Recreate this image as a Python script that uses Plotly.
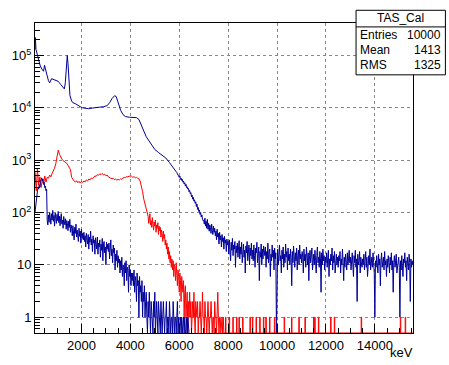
import numpy as np
import plotly.graph_objects as go

# ---------------- data ----------------
# Upper blue spectrum, smooth part (keV, counts)
blue_e = [100, 115, 140, 170, 220, 260, 315, 380, 450, 490, 530, 580, 650, 700, 780, 850, 950,
          1050, 1150, 1250, 1300, 1340, 1380, 1420, 1450, 1490, 1530, 1600, 1650, 1750, 1850,
          1950, 2050, 2150, 2300, 2450, 2600, 2750, 2900, 3050, 3150, 3250, 3350, 3420, 3500,
          3600, 3700, 3800, 3950, 4100, 4250, 4350, 4450, 4550, 4650, 4750, 4870, 5000, 5150,
          5300, 5450, 5600, 5750, 5900]
blue_c = [1.3e5, 2.2e5, 1.3e5, 1.15e5, 8.5e4, 7.9e4, 6.3e4, 5.5e4, 5.0e4, 6.5e4, 5.0e4, 4.4e4,
          3.3e4, 3.0e4, 3.6e4, 3.5e4, 3.3e4, 3.2e4, 2.8e4, 2.4e4, 2.3e4, 3.0e4, 6.5e4, 1.0e5,
          7.0e4, 2.8e4, 1.7e4, 1.35e4, 1.25e4, 1.2e4, 1.1e4, 1.05e4, 1.0e4, 9.8e3, 9.6e3, 9.9e3,
          1.0e4, 1.02e4, 1.05e4, 1.1e4, 1.25e4, 1.5e4, 1.7e4, 1.65e4, 1.3e4, 9.0e3, 7.4e3,
          6.8e3, 6.6e3, 6.6e3, 6.5e3, 6.0e3, 4.8e3, 3.6e3, 2.8e3, 2.4e3, 1.9e3, 1.6e3, 1.4e3,
          1.25e3, 1.1e3, 900, 720, 580]
# Upper blue spectrum, noisy tail: 25 keV bins starting at 6000 keV
blue_tail_start, blue_tail_step = 6000, 25
blue_tail_c = [
    470, 500, 430, 455, 410, 430, 380, 400, 350, 370, 320, 345, 300, 310, 280, 290, 250, 265, 230, 240,
    200, 215, 180, 195, 165, 175, 150, 160, 130, 145, 115, 125, 105, 112, 92, 100, 82, 90, 75, 70,
    72, 60, 78, 55, 68, 50, 74, 48, 62, 44, 58, 52, 40, 60, 46, 38, 55, 42, 50, 36,
    44, 30, 48, 34, 40, 25, 42, 30, 36, 22, 38, 28, 33, 20, 35, 26, 30, 18, 31, 24,
    28, 16, 30, 22, 12, 27, 19, 32, 15, 24, 20, 28, 9, 23, 17, 26, 14, 21, 29, 13,
    22, 16, 27, 11, 20, 25, 14, 19, 7, 23, 17, 28, 12, 18, 24, 10, 21, 15, 26, 13,
    19, 12, 24, 15, 9, 21, 17, 27, 11, 16, 22, 5, 18, 14, 25, 10, 20, 13, 23, 16,
    15, 22, 9, 18, 13, 26, 11, 17, 20, 6, 16, 12, 24, 14, 19, 8, 21, 13, 17, 0,
    14, 20, 10, 17, 24, 12, 15, 7, 19, 13, 22, 9, 16, 11, 25, 14, 18, 8, 21, 12,
    16, 10, 20, 13, 4, 18, 11, 23, 14, 9, 17, 12, 21, 8, 15, 19, 10, 24, 13, 16,
    11, 18, 14, 7, 20, 12, 16, 9, 22, 13, 10, 17, 5, 15, 19, 11, 14, 21, 8, 13,
    16, 10, 19, 12, 7, 15, 22, 11, 14, 9, 18, 13, 3, 17, 10, 20, 12, 15, 8, 14,
    11, 17, 9, 14, 19, 6, 13, 10, 16, 12, 21, 8, 15, 11, 18, 7, 13, 16, 10, 14,
    9, 15, 12, 18, 7, 13, 10, 20, 11, 5, 14, 9, 16, 12, 8, 17, 10, 13, 19, 11,
    14, 8, 12, 17, 10, 6, 15, 11, 19, 9, 13, 2, 16, 10, 12, 18, 7, 14, 11, 9,
    13, 10, 16, 8, 12, 18, 9, 14, 6, 11, 15, 10, 20, 8, 12, 14, 9, 17, 11, 7,
    1, 12, 9, 15, 11, 7, 16, 10, 13, 4, 12, 17, 9, 11, 14, 8, 18, 10, 12, 6,
    13, 9, 15, 11, 7, 14, 10, 17, 8, 12, 3, 11, 15, 9, 13, 16, 7, 10, 12, 14,
    9, 1, 12, 8, 15, 10, 6, 13, 11, 17, 9, 12, 5, 14, 10, 8, 16, 11, 2, 13, 9, 12, 10]

# Red spectrum: 50 keV bins starting at 100 keV
red_start, red_step = 100, 50
red_c = [
    600, 260, 690, 330, 480, 300, 420, 340, 500, 380, 470, 450, 520, 480, 560, 620, 700, 850, 1150, 1550,
    1300, 1150, 1050, 980, 950, 900, 870, 800, 740, 660, 470, 420, 400, 380, 405, 370, 395, 365, 390, 375,
    400, 385, 420, 400, 435, 420, 455, 440, 480, 500, 490, 530, 515, 550, 530, 560, 520, 540, 505, 520,
    480, 470, 455, 440, 450, 425, 435, 415, 430, 420, 440, 430, 455, 470, 460, 490, 475, 500, 480, 495,
    470, 485, 460, 470, 450, 440, 400, 330, 250, 180, 140, 110, 90]
# Red noisy tail: 25 keV bins starting at 4725 keV
red_tail_start, red_tail_step = 4725, 25
red_tail_c = [
    85, 62, 74, 95, 58, 70, 52, 80, 60, 46, 66, 55, 72, 42, 58, 50, 64, 38, 55, 45,
    52, 34, 46, 40, 28, 44, 32, 38, 24, 30, 20, 26, 16, 22, 13, 18, 11, 15, 9, 13,
    8, 12, 6, 10, 9, 5, 11, 7, 4, 8, 6, 3, 7, 5, 2, 6, 4, 3, 5, 1,
    3, 4, 1, 2, 3, 0, 2, 1, 3, 1, 2, 0, 1, 2, 1, 3, 1, 0, 2, 1,
    1, 2, 0, 1, 1, 2, 1, 0, 1, 3, 1, 1, 0, 2, 1, 1, 0, 1, 2, 1,
    0, 1, 1, 2, 1, 0, 1, 1, 0, 2, 1, 1, 0, 1, 3, 1, 0, 1, 1, 0,
    1, 1, 0, 1, 0]
# Red isolated single-count bins above 7800 keV
red_single_e = [7900, 8050, 8200, 8350, 8450, 8600, 8900, 9000, 9150, 9300, 9450, 9550, 9700,
                9900, 10300, 10600, 10900, 11150, 11500, 11550, 11700, 12200, 12350, 13450,
                15050, 15250]

# Lower (navy) spectrum: 25 keV bins starting at 100 keV
navy_start, navy_step = 100, 25
navy_c = [
    100, 140, 190, 230, 260, 300, 280, 340, 310, 380, 420, 460, 400, 440, 350, 380, 300, 320, 260, 280,
    70, 58, 90, 65, 100, 75, 60, 95, 72, 110, 68, 88, 55, 98, 76, 62, 92, 70, 105, 64,
    85, 56, 78, 95, 60, 72, 50, 84, 66, 58, 76, 48, 70, 62, 45, 68, 52, 74, 42, 58,
    50, 36, 56, 42, 30, 52, 40, 60, 34, 46, 38, 28, 50, 35, 44, 26, 48, 32, 40, 30,
    42, 28, 36, 22, 40, 30, 25, 38, 20, 34, 27, 44, 24, 31, 18, 36, 26, 30, 16, 33,
    28, 20, 34, 16, 26, 22, 30, 14, 25, 19, 32, 12, 24, 28, 17, 22, 10, 27, 20, 25,
    18, 26, 13, 22, 30, 15, 20, 11, 24, 17, 21, 8, 16, 12, 19, 9, 15, 11, 13, 7,
    12, 8, 14, 6, 10, 9, 4, 11, 7, 12, 5, 9, 8, 3, 10, 6, 8, 4, 7, 5,
    7, 4, 8, 3, 6, 5, 2, 7, 4, 5, 1, 6, 3, 4, 2, 5, 1, 3, 2, 4,
    1, 2, 3, 1, 0, 2, 1, 3, 1, 0, 2, 1, 1, 0, 2, 1, 3, 0, 1, 2,
    1, 0, 2, 1, 1, 0, 2, 1, 0, 1, 2, 1, 0, 1, 1, 2, 0, 1, 1, 0,
    2, 1, 0, 1, 1, 0, 2, 1, 0, 1, 1, 0, 1, 2, 0, 1, 0, 1, 1, 0,
    1, 0, 1, 1, 0, 1, 0, 0, 1, 0, 1, 0, 0]

x_ticks = [2000, 4000, 6000, 8000, 10000, 12000, 14000]
y_ticks = [1, 10, 100, 1000, 10000, 100000]
y_tick_text = ["1", "10", "10<sup>2</sup>", "10<sup>3</sup>", "10<sup>4</sup>", "10<sup>5</sup>"]

stats_title = "TAS_Cal"
stats_rows = [("Entries", "10000"), ("Mean", "1413"), ("RMS", "1325")]
x_title = "keV"

# ---------------- build ----------------
YMIN = 0.5
XMIN, XMAX = 100, 15560


def floor0(vals):
    return [v if v > 0 else YMIN for v in vals]


def tail_x(start, step, n):
    return list(start + step * np.arange(n))


BLUE = "#000099"
NAVY = "#000099"
RED = "#ff0000"

fig = go.Figure()

bx = blue_e + tail_x(blue_tail_start, blue_tail_step, len(blue_tail_c))
by = blue_c + blue_tail_c
fig.add_trace(go.Scatter(x=bx, y=floor0(by), mode="lines",
                         line=dict(color=BLUE, width=1), hoverinfo="skip"))

rx = tail_x(red_start, red_step, len(red_c)) + tail_x(red_tail_start, red_tail_step, len(red_tail_c))
ry = red_c + red_tail_c
for e in red_single_e:
    rx += [e - 10, e - 10, e + 10, e + 10]
    ry += [0, 1, 1, 0]
rx += [XMAX]
ry += [0]
fig.add_trace(go.Scatter(x=rx, y=floor0(ry), mode="lines",
                         line=dict(color=RED, width=1), hoverinfo="skip"))

nx = tail_x(navy_start, navy_step, len(navy_c))
fig.add_trace(go.Scatter(x=nx, y=floor0(navy_c), mode="lines",
                         line=dict(color=NAVY, width=1), hoverinfo="skip"))

# layout geometry (px)
W, H = 449, 365
L, R, T, B = 28, 413, 23, 340


def px_x(p):
    return (p - L) / (R - L)


def px_y(p):
    return (B - p) / (B - T)


font = dict(family="Liberation Sans, Arial, Helvetica, sans-serif", size=13, color="black")

fig.update_layout(
    width=W, height=H,
    margin=dict(l=L, r=W - R, t=T, b=H - B),
    paper_bgcolor="white", plot_bgcolor="white",
    showlegend=False, font=font,
    xaxis=dict(range=[XMIN, XMAX], tickmode="array", tickvals=x_ticks,
               ticktext=[str(v) for v in x_ticks], ticks="inside", ticklen=9,
               tickcolor="black", showline=True, linecolor="black", linewidth=1, mirror=True,
               showgrid=True, gridcolor="#888888", griddash="dot", gridwidth=1, zeroline=False,
               minor=dict(ticks="inside", ticklen=5, tickcolor="black", dtick=500, tick0=0,
                          showgrid=False),
               tickfont=font),
    yaxis=dict(type="log", range=[np.log10(YMIN), 5.62], tickmode="array", tickvals=y_ticks,
               ticktext=y_tick_text, ticks="inside", ticklen=9, tickcolor="black",
               showline=True, linecolor="black", linewidth=1, mirror=True,
               showgrid=True, gridcolor="#888888", griddash="dot", gridwidth=1, zeroline=False,
               minor=dict(ticks="inside", ticklen=5, tickcolor="black", showgrid=False,
                          tickmode="array",
                          tickvals=[k * 10.0 ** d for d in range(-1, 6) for k in range(2, 10)]),
               tickfont=font),
)

# stats box
x0, x1 = px_x(355), px_x(446)
y0, y1 = px_y(76), px_y(10)
fig.add_shape(type="rect", xref="paper", yref="paper", x0=x0, x1=x1, y0=y0, y1=y1,
              line=dict(color="black", width=1), fillcolor="white", layer="above")
fig.add_shape(type="line", xref="paper", yref="paper", x0=x0, x1=x1, y0=px_y(27), y1=px_y(27),
              line=dict(color="black", width=1), layer="above")
sfont = dict(family="Liberation Sans, Arial, Helvetica, sans-serif", size=12, color="black")
fig.add_annotation(xref="paper", yref="paper", x=(x0 + x1) / 2, y=px_y(18), text=stats_title,
                   showarrow=False, xanchor="center", yanchor="middle", font=sfont)
for i, (k, v) in enumerate(stats_rows):
    yy = px_y(35 + 15.5 * i)
    fig.add_annotation(xref="paper", yref="paper", x=px_x(357), y=yy, text=k, showarrow=False,
                       xanchor="left", yanchor="middle", font=sfont)
    fig.add_annotation(xref="paper", yref="paper", x=px_x(444), y=yy, text=v, showarrow=False,
                       xanchor="right", yanchor="middle", font=sfont)

fig.add_annotation(xref="paper", yref="paper", x=px_x(414), y=px_y(351), text=x_title,
                   showarrow=False, xanchor="right", yanchor="top", font=font,
                   borderpad=0)

fig.write_html("out.html", config={"displayModeBar": False})
